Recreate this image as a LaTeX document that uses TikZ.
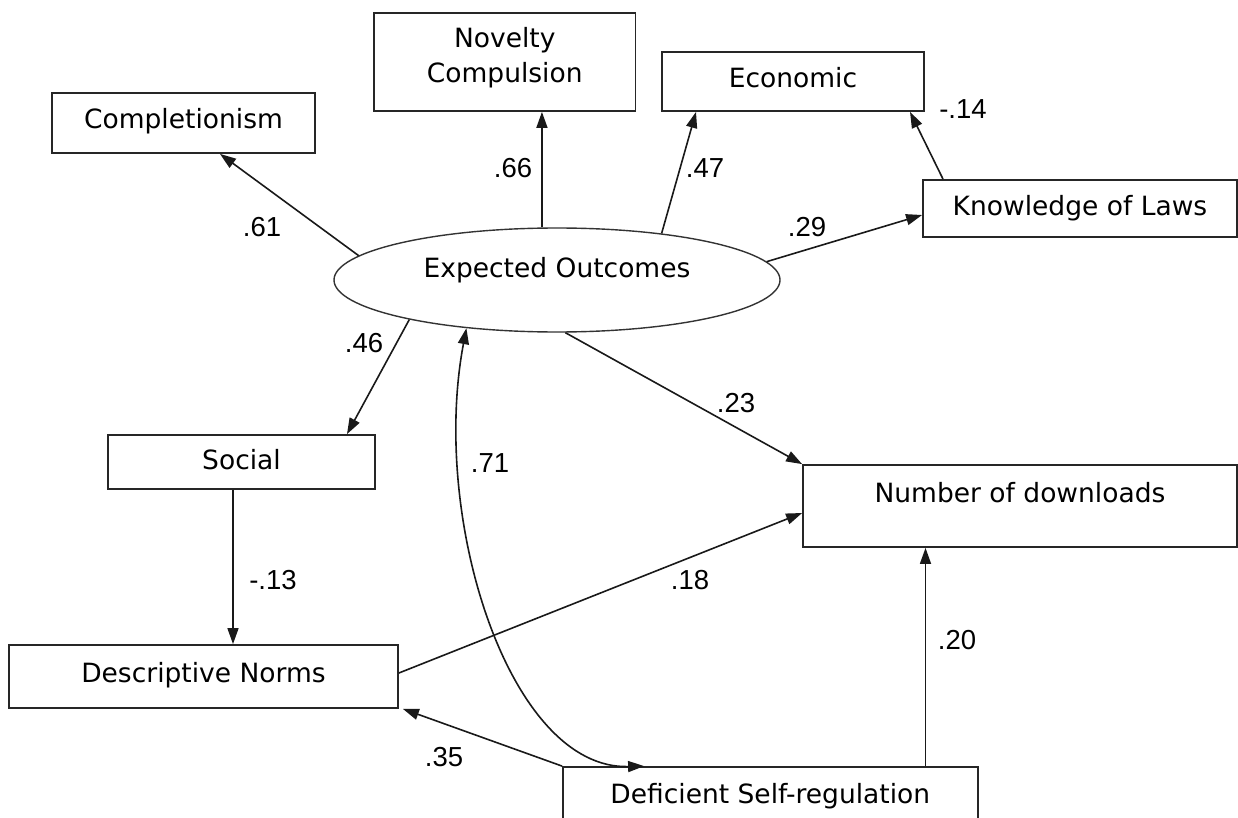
\documentclass[tikz,border=0pt]{standalone}
\usepackage{fontspec}
\setmainfont{DejaVu Sans}
\newfontfamily\numfont{Liberation Sans}
\usetikzlibrary{arrows.meta,shapes.geometric,calc}

\begin{document}
\begin{tikzpicture}[x=1pt,y=-1pt,
  box/.style={draw=black!85, line width=1.8pt, rectangle, inner sep=0pt,
    font=\fontsize{26.5}{35}\selectfont, text height=19.8pt, text depth=8.3pt},
  boxtext/.style={inner sep=0pt, font=\fontsize{26.5}{35}\selectfont, align=center},
  coef/.style={inner sep=0pt, font=\numfont\fontsize{27.5}{30}\selectfont},
  arr/.style={draw=black!90, line width=1.6pt, -{Triangle[length=16pt,width=11pt]}},
  dbl/.style={arr, {Triangle[length=16pt,width=11pt]}-{Triangle[length=16pt,width=11pt]}}
]
\useasboundingbox (0,0) rectangle (1238,818);

% variables
\node[box, minimum width=263pt, minimum height=60pt] (comp) at (183.5,123) {Completionism};
\node[box, minimum width=261.5pt, minimum height=98pt] (nov) at (504.75,62) {};
\node[boxtext] (novt) at (504.75,58) {Novelty\\Compulsion};
\node[box, minimum width=262pt, minimum height=59pt] (eco) at (793,81.5) {Economic};
\node[box, minimum width=314pt, minimum height=57pt, text depth=5pt] (know) at (1080,208.5) {Knowledge of Laws};
\node[draw=black!80, ellipse, minimum width=446pt, minimum height=104pt, inner sep=0pt, line width=1.4pt] (eo) at (557,280) {};
\node[boxtext] (eot) at (557,269.7) {Expected Outcomes};
\node[box, minimum width=267pt, minimum height=54pt, text depth=5pt] (soc) at (241.5,462) {Social};
\node[box, minimum width=434pt, minimum height=82pt, text depth=26.8pt] (nd) at (1020,506) {Number of downloads};
\node[box, minimum width=389pt, minimum height=63pt] (dn) at (203.5,676.5) {Descriptive Norms};
\node[box, minimum width=414.6pt, minimum height=62pt] (dsr) at (770.3,798) {Deficient Self-regulation};

% helper points on box edges
\coordinate (s1) at ($(soc.south)+(-8.5,0)$);
\coordinate (d1) at ($(dsr.north east)+(-53,0)$);

% paths
\draw[arr] (eo.173.8) -- ($(comp.south)+(36.5,0)$);
\draw[arr] (eo.106.1) -- (eo.106.1 |- nov.south);
\draw[arr] (eo.24) -- ($(eco.south)+(-97,0)$);
\draw[arr] (eo.5) -- ($(know.west)+(0,6.5)$);
\draw[arr] ($(know.north)+(-137,0)$) -- ($(eco.south)+(117,0)$);
\draw[arr] (eo.195) -- ($(soc.north)+(105.5,0)$);
\draw[arr] (eo.-81) -- (nd.north west);
\draw[arr] ($(dn.east)+(0,-3.5)$) -- ($(nd.west)+(0,7)$);
\draw[arr] (s1) -- (s1 |- dn.north);
\draw[arr] (d1) -- (d1 |- nd.south);
\draw[arr] (dsr.north west) -- ($(dn.south east)+(4,0)$);
\draw[dbl] (eo.208) .. controls (430,520) and (510,770) .. ($(dsr.north west)+(82,0)$);

% coefficients
\node[coef] (c61) at (262,227) {.61};
\node[coef] (c66) at (513,168) {.66};
\node[coef] (c47) at (705,168) {.47};
\node[coef] (c29) at (807,227) {.29};
\node[coef] (c14) at (963,109) {-.14};
\node[coef] (c46) at (364,343) {.46};
\node[coef] (c23) at (736,403) {.23};
\node[coef] (c71) at (490,463) {.71};
\node[coef] (c18) at (690,580) {.18};
\node[coef] (c13) at (273,580) {-.13};
\node[coef] (c20) at (957,640) {.20};
\node[coef] (c35) at (444,757) {.35};
\end{tikzpicture}
\end{document}
